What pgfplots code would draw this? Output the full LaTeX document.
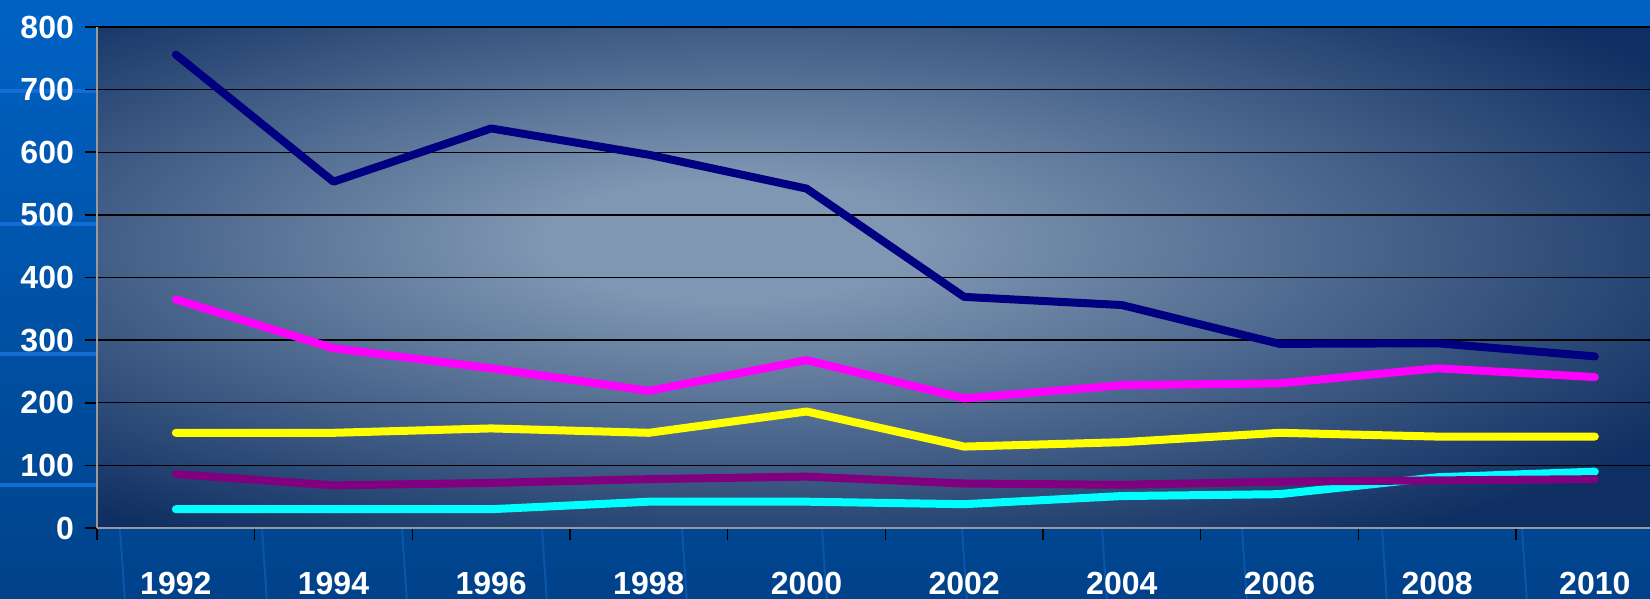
\documentclass[border=0pt]{standalone}
\usepackage{fontspec}
\setmainfont{Liberation Sans}
\usepackage{pgfplots}
\pgfplotsset{compat=1.18}
\definecolor{bgtop}{RGB}{0,98,196}
\definecolor{bgbot}{RGB}{0,66,138}
\definecolor{stripe}{RGB}{18,110,212}
\definecolor{faint}{RGB}{10,86,170}
\definecolor{glowc}{RGB}{128,151,179}
\definecolor{glowe}{RGB}{15,47,98}
\definecolor{sNavy}{RGB}{0,0,128}
\definecolor{sMagenta}{RGB}{255,0,255}
\definecolor{sYellow}{RGB}{255,255,0}
\definecolor{sPurple}{RGB}{128,0,128}
\definecolor{sCyan}{RGB}{0,255,255}
\pgfdeclareradialshading{plotglow}{\pgfpoint{-5bp}{4bp}}{color(0bp)=(glowc); color(6bp)=(glowc); color(34bp)=(glowe); color(80bp)=(glowe)}

\begin{document}
\begin{tikzpicture}
\useasboundingbox (0pt,0pt) rectangle (412.5pt,149.75pt);
\clip (0pt,0pt) rectangle (412.5pt,149.75pt);
\shade[top color=bgtop, bottom color=bgbot] (0pt,0pt) rectangle (412.5pt,149.75pt);
% faint decorations of the slide background
\foreach \yy in {127, 93.75, 61.25, 28.5}
  \draw[stripe, line width=0.8pt] (0pt,\yy pt) -- (24pt,\yy pt);
\foreach \xx in {30, 65.5, 100.5, 135.5, 170.5, 205.5, 240.5, 275.5, 310.5, 345.5, 380.5}
  \draw[faint, line width=0.5pt] (\xx pt,17.5pt) -- (\xx pt+1.2pt,0pt);
\begin{axis}[
    at={(24.25pt,17.75pt)}, anchor=south west,
    scale only axis,
    width=388.25pt, height=125.25pt,
    xmin=0.5, xmax=10.35,
    ymin=0, ymax=800,
    ytick={0,100,...,800},
    xtick={1,...,10},
    xticklabels={1992,1994,1996,1998,2000,2002,2004,2006,2008,2010},
    minor xtick={0.5,1.5,...,9.5},
    tick align=outside,
    major tick length=3pt,
    minor tick length=3pt,
    major x tick style={draw=none},
    minor x tick style={black, line width=0.4pt},
    major y tick style={black, line width=0.4pt},
    axis lines*=left,
    axis line style={gray!80, line width=0.6pt, -},
    axis background/.style={shading=plotglow},
    ymajorgrids=true,
    grid style={black, line width=0.35pt},
    /pgf/number format/assume math mode=true,
    ticklabel style={font=\bfseries\fontsize{8}{9.6}\selectfont, text=white},
    xticklabel style={yshift=-4.5pt},
    yticklabel style={xshift=0.75pt},
    every axis plot/.append style={line width=2pt, line join=round, line cap=round, mark=none},
]
\addplot[sNavy] coordinates {(1,756) (2,553) (3,638) (4,596) (5,542) (6,369) (7,356) (8,294) (9,295) (10,274)};
\addplot[sMagenta] coordinates {(1,365) (2,287) (3,255) (4,219) (5,268) (6,207) (7,228) (8,231) (9,255) (10,241)};
\addplot[sYellow] coordinates {(1,152) (2,152) (3,159) (4,152) (5,186) (6,130) (7,137) (8,152) (9,146) (10,146)};
\addplot[sCyan] coordinates {(1,30) (2,30) (3,30) (4,42) (5,42) (6,38) (7,51) (8,54) (9,81) (10,90)};
\addplot[sPurple] coordinates {(1,86) (2,68) (3,72) (4,78) (5,82) (6,71) (7,69) (8,74) (9,76) (10,78)};
\end{axis}
\end{tikzpicture}
\end{document}
